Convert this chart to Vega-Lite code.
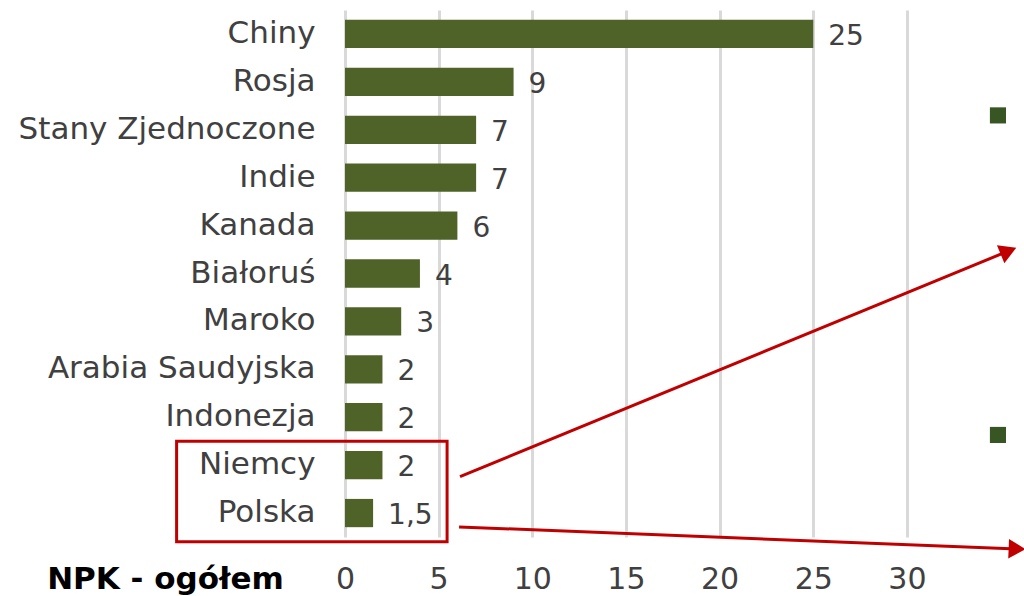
{
  "$schema": "https://vega.github.io/schema/vega-lite/v6.json",
  "autosize": {"type": "none"},
  "width": 679,
  "height": 527,
  "padding": {"left": 345, "top": 10, "right": 0, "bottom": 59},
  "config": {"view": {"stroke": null}, "font": "DejaVu Sans"},
  "datasets": {
    "bars": [
      {"country": "Chiny", "value": 25, "label": "25", "order": 1},
      {"country": "Rosja", "value": 9, "label": "9", "order": 2},
      {"country": "Stany Zjednoczone", "value": 7, "label": "7", "order": 3},
      {"country": "Indie", "value": 7, "label": "7", "order": 4},
      {"country": "Kanada", "value": 6, "label": "6", "order": 5},
      {"country": "Białoruś", "value": 4, "label": "4", "order": 6},
      {"country": "Maroko", "value": 3, "label": "3", "order": 7},
      {"country": "Arabia Saudyjska", "value": 2, "label": "2", "order": 8},
      {"country": "Indonezja", "value": 2, "label": "2", "order": 9},
      {"country": "Niemcy", "value": 2, "label": "2", "order": 10},
      {"country": "Polska", "value": 1.5, "label": "1,5", "order": 11}
    ],
    "box": [{"x": -8.99, "x2": 5.45, "r": 9.0, "r2": 11.1}],
    "arrows": [
      {"arrow": "a1", "x": 6.14, "r": 9.74},
      {"arrow": "a1", "x": 35.42, "r": 5.03},
      {"arrow": "a2", "x": 6.09, "r": 10.79},
      {"arrow": "a2", "x": 35.88, "r": 11.25}
    ],
    "heads": [
      {"x": 35.42, "r": 5.03, "angle": 337.6},
      {"x": 35.88, "r": 11.25, "angle": 2.3}
    ],
    "squares": [
      {"x": 34.86, "r": 2.2},
      {"x": 34.86, "r": 8.87}
    ]
  },
  "layer": [
    {
      "layer": [
        {
          "data": {"name": "bars"},
          "mark": {"type": "bar", "color": "#4F6228"},
          "encoding": {
            "x": {
              "field": "value", "type": "quantitative",
              "scale": {"domain": [0, 36.25], "nice": false},
              "axis": {
                "values": [0, 5, 10, 15, 20, 25, 30],
                "grid": true, "gridColor": "#D9D9D9", "gridWidth": 3,
                "domain": false, "ticks": false, "labelFlush": false,
                "labelFontSize": 30, "labelColor": "#404040",
                "labelBaseline": "alphabetic", "labelPadding": 51,
                "title": "NPK - ogółem", "titleFontSize": 31, "titleFontWeight": "bold",
                "titleColor": "#000000", "titleX": -180, "titleY": 51,
                "titleAlign": "center", "titleBaseline": "alphabetic"
              }
            },
            "y": {
              "field": "country", "type": "nominal",
              "sort": {"field": "order"},
              "scale": {"paddingInner": 0.41, "paddingOuter": 0.205},
              "axis": {
                "title": null, "domain": false, "ticks": false, "grid": false,
                "labelFontSize": 31, "labelColor": "#404040", "labelPadding": 30, "labelLimit": 500
              }
            }
          }
        },
        {
          "data": {"name": "bars"},
          "mark": {"type": "text", "align": "left", "baseline": "middle", "dx": 15, "dy": 3, "fontSize": 28, "color": "#404040"},
          "encoding": {
            "x": {"field": "value", "type": "quantitative", "scale": {"domain": [0, 36.25], "nice": false}},
            "y": {"field": "country", "type": "nominal", "sort": {"field": "order"}, "scale": {"paddingInner": 0.41, "paddingOuter": 0.205}},
            "text": {"field": "label"}
          }
        }
      ]
    },
    {
      "layer": [
        {
          "data": {"name": "box"},
          "mark": {"type": "rect", "filled": false, "stroke": "#C00000", "strokeWidth": 3},
          "encoding": {
            "x": {"field": "x", "type": "quantitative", "scale": {"domain": [0, 36.25], "nice": false}},
            "x2": {"field": "x2"},
            "y": {"field": "r", "type": "quantitative", "scale": {"domain": [0, 11], "reverse": true, "nice": false, "zero": false}, "axis": null},
            "y2": {"field": "r2"}
          }
        },
        {
          "data": {"name": "arrows"},
          "mark": {"type": "line", "stroke": "#C00000", "strokeWidth": 3},
          "encoding": {
            "x": {"field": "x", "type": "quantitative", "scale": {"domain": [0, 36.25], "nice": false}},
            "y": {"field": "r", "type": "quantitative", "scale": {"domain": [0, 11], "reverse": true, "nice": false, "zero": false}, "axis": null},
            "detail": {"field": "arrow"}
          }
        },
        {
          "data": {"name": "heads"},
          "mark": {"type": "point", "shape": "triangle-right", "filled": true, "color": "#C00000", "opacity": 1, "size": 380},
          "encoding": {
            "x": {"field": "x", "type": "quantitative", "scale": {"domain": [0, 36.25], "nice": false}},
            "y": {"field": "r", "type": "quantitative", "scale": {"domain": [0, 11], "reverse": true, "nice": false, "zero": false}, "axis": null},
            "angle": {"field": "angle", "type": "quantitative", "scale": null}
          }
        },
        {
          "data": {"name": "squares"},
          "mark": {"type": "point", "shape": "square", "filled": true, "color": "#375623", "opacity": 1, "size": 260},
          "encoding": {
            "x": {"field": "x", "type": "quantitative", "scale": {"domain": [0, 36.25], "nice": false}},
            "y": {"field": "r", "type": "quantitative", "scale": {"domain": [0, 11], "reverse": true, "nice": false, "zero": false}, "axis": null}
          }
        }
      ]
    }
  ],
  "resolve": {"scale": {"y": "independent"}}
}
